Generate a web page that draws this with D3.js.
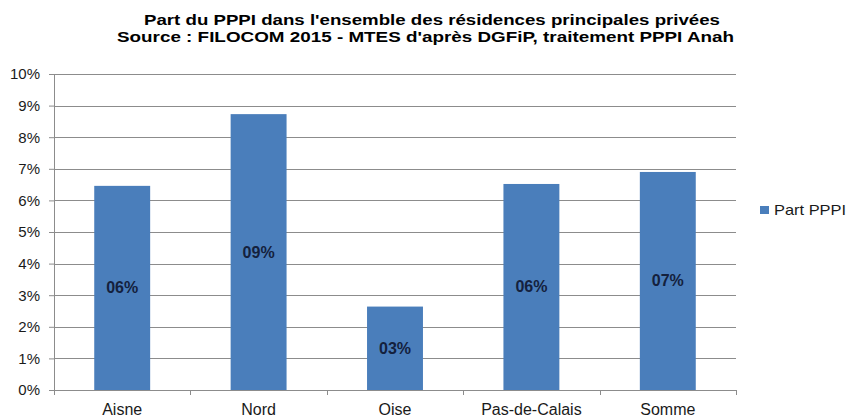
<!DOCTYPE html>
<html>
<head>
<meta charset="utf-8">
<script src="https://cdn.jsdelivr.net/npm/d3@7"></script>
<style>
  body { margin: 0; background: #fff; }
  svg { font-family: "Liberation Sans", Arial, sans-serif; }
</style>
</head>
<body>
<div id="chart"></div>
<script>
var categories = ["Aisne", "Nord", "Oise", "Pas-de-Calais", "Somme"];
var values = [0.0646, 0.0873, 0.0264, 0.0652, 0.0690];
var valueLabels = ["06%", "09%", "03%", "06%", "07%"];
var yTicks = [0, 0.01, 0.02, 0.03, 0.04, 0.05, 0.06, 0.07, 0.08, 0.09, 0.1];
var seriesName = "Part PPPI";
var titleLines = [
    "Part du PPPI dans l'ensemble des résidences principales privées",
    "Source : FILOCOM 2015 - MTES d'après DGFiP, traitement PPPI Anah"
];

var width = 848, height = 417;
var margin = {top: 74, right: 112, bottom: 27, left: 54};
var plotW = width - margin.left - margin.right,
    plotH = height - margin.top - margin.bottom;

var svg = d3.select("#chart").append("svg")
    .attr("width", width)
    .attr("height", height);

// title is drawn a bit wide in the original, so stretch it to the same span
var titleSpans = [[144, 720], [117, 734]];
svg.selectAll("text.title")
    .data(titleLines)
  .enter().append("text")
    .attr("class", "title")
    .attr("x", function(d, i) { return titleSpans[i][0]; })
    .attr("y", function(d, i) { return 25 + i * 17; })
    .attr("textLength", function(d, i) { return titleSpans[i][1] - titleSpans[i][0]; })
    .attr("lengthAdjust", "spacingAndGlyphs")
    .style("font-size", "15px")
    .style("font-weight", "bold")
    .style("fill", "#000")
    .text(function(d) { return d; });

var g = svg.append("g")
    .attr("transform", "translate(" + margin.left + "," + margin.top + ")");

var x = d3.scaleBand()
    .domain(categories)
    .range([0, plotW])
    .paddingInner(0.59)
    .paddingOuter(0.295);

var y = d3.scaleLinear()
    .domain([0, 0.1])
    .range([plotH, 0]);

// gridlines
g.selectAll("line.grid")
    .data(yTicks)
  .enter().append("line")
    .attr("class", "grid")
    .attr("x1", 0)
    .attr("x2", plotW)
    .attr("y1", function(d) { return Math.round(y(d)) + 0.5; })
    .attr("y2", function(d) { return Math.round(y(d)) + 0.5; })
    .style("stroke", "#8c8c8c")
    .style("stroke-width", 1);

// y axis
var yAxis = g.append("g")
    .call(d3.axisLeft(y).tickValues(yTicks).tickFormat(d3.format(".0%")).tickSize(5).tickPadding(9));
yAxis.selectAll("text").style("font-size", "15px").style("fill", "#1a1a1a");
yAxis.selectAll("line").style("stroke", "#8c8c8c");
yAxis.select(".domain").style("stroke", "#8c8c8c").attr("d", "M0.5,0V" + plotH);

// bars
g.selectAll("rect.bar")
    .data(values)
  .enter().append("rect")
    .attr("class", "bar")
    .attr("x", function(d, i) { return x(categories[i]); })
    .attr("width", x.bandwidth())
    .attr("y", function(d) { return y(d); })
    .attr("height", function(d) { return plotH - y(d); })
    .style("fill", "#4a7ebb");

// value labels
g.selectAll("text.val")
    .data(values)
  .enter().append("text")
    .attr("class", "val")
    .attr("x", function(d, i) { return x(categories[i]) + x.bandwidth() / 2; })
    .attr("y", function(d) { return (y(d) + plotH) / 2 + 5.5; })
    .attr("text-anchor", "middle")
    .style("font-size", "16px")
    .style("font-weight", "bold")
    .style("fill", "#14213d")
    .text(function(d, i) { return valueLabels[i]; });

// x axis
var xAxis = g.append("g")
    .attr("transform", "translate(0," + plotH + ")");
xAxis.append("line")
    .attr("x1", 0).attr("x2", plotW)
    .attr("y1", 0.5).attr("y2", 0.5)
    .style("stroke", "#8c8c8c");
var step = plotW / categories.length;
xAxis.selectAll("line.tick")
    .data(d3.range(categories.length + 1))
  .enter().append("line")
    .attr("class", "tick")
    .attr("x1", function(i) { return Math.round(i * step) + 0.5; })
    .attr("x2", function(i) { return Math.round(i * step) + 0.5; })
    .attr("y1", 0).attr("y2", 5)
    .style("stroke", "#8c8c8c");
xAxis.selectAll("text")
    .data(categories)
  .enter().append("text")
    .attr("x", function(d) { return x(d) + x.bandwidth() / 2; })
    .attr("y", 25)
    .attr("text-anchor", "middle")
    .style("font-size", "16px")
    .style("fill", "#1a1a1a")
    .text(function(d) { return d; });

// legend
var legend = svg.append("g")
    .attr("transform", "translate(760,206)");
legend.append("rect")
    .attr("width", 9).attr("height", 8)
    .style("fill", "#4a7ebb");
legend.append("text")
    .attr("x", 14).attr("y", 9)
    .attr("textLength", 72)
    .attr("lengthAdjust", "spacingAndGlyphs")
    .style("font-size", "15px")
    .style("fill", "#1a1a1a")
    .text(seriesName);
</script>
</body>
</html>
